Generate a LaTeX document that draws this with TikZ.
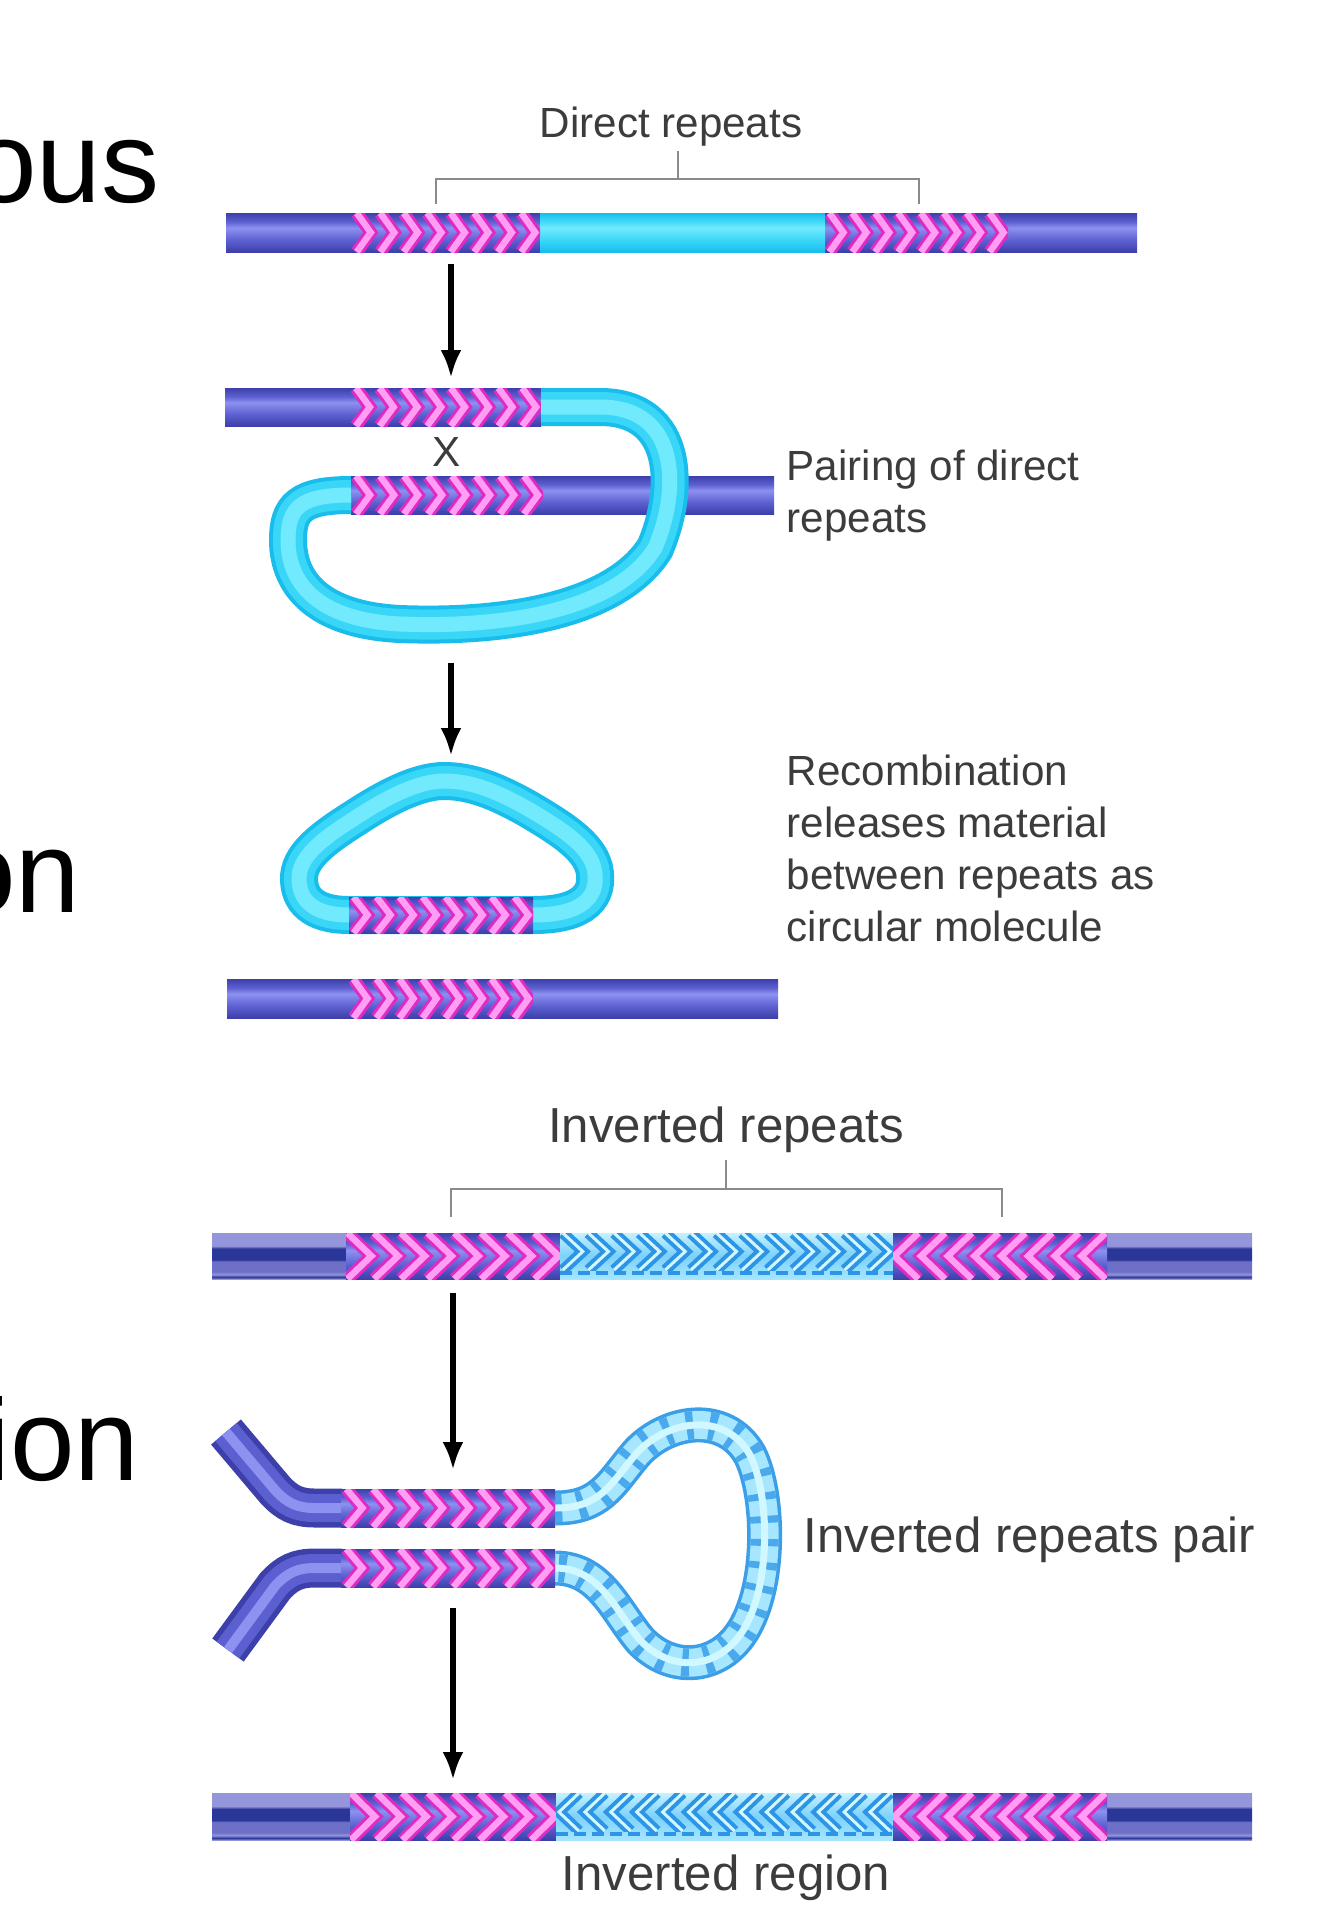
\documentclass[tikz,border=0pt]{standalone}
\usepackage{fontspec}
\setmainfont{Liberation Sans}
\usetikzlibrary{arrows.meta}

\definecolor{dnaedge}{HTML}{3D40AA}
\definecolor{dnamid}{HTML}{5C5FCF}
\definecolor{dnahi}{HTML}{8D91F0}
\definecolor{cyedge}{HTML}{18BDEC}
\definecolor{cymid}{HTML}{3AD6F7}
\definecolor{cyhi}{HTML}{72EAFD}
\definecolor{navy}{HTML}{2A3698}
\definecolor{lav}{HTML}{9495DA}
\definecolor{lavmid}{HTML}{6E70C8}
\definecolor{chevmag}{HTML}{E02AC4}
\definecolor{chevlight}{HTML}{FF9EF2}
\definecolor{lbbg}{HTML}{A6E6FF}
\definecolor{lbmid}{HTML}{7CD2FA}
\definecolor{lbtop}{HTML}{C4F2FF}
\definecolor{lbchevc}{HTML}{2E94E6}
\definecolor{lbstripe}{HTML}{4AA8EC}
\definecolor{lbinner}{HTML}{D2F8FF}
\definecolor{lbedge}{HTML}{3A9EE8}
\definecolor{textgray}{HTML}{3C3C3C}
\definecolor{bracegray}{HTML}{8A8A8A}

\pgfdeclareverticalshading{bluetube}{100bp}{color(0bp)=(dnaedge); color(25bp)=(dnaedge); color(40bp)=(dnamid); color(56bp)=(dnahi); color(64bp)=(dnamid); color(75bp)=(dnaedge); color(100bp)=(dnaedge)}
\pgfdeclareverticalshading{cyantube}{100bp}{color(0bp)=(cyedge); color(25bp)=(cyedge); color(40bp)=(cymid); color(56bp)=(cyhi); color(66bp)=(cymid); color(75bp)=(cyedge); color(100bp)=(cyedge)}
\pgfdeclareverticalshading{navytube}{100bp}{color(0bp)=(lav); color(25bp)=(lav); color(27bp)=(navy); color(30bp)=(lav); color(33bp)=(lavmid); color(44bp)=(lavmid); color(46bp)=(navy); color(58bp)=(navy); color(61bp)=(lav); color(75bp)=(lav); color(100bp)=(lav)}
\pgfdeclareverticalshading{lbtube}{100bp}{color(0bp)=(lbbg); color(25bp)=(lbbg); color(50bp)=(lbmid); color(75bp)=(lbtop); color(100bp)=(lbtop)}

% row of chevrons: x0, x1, ytop, ybot, count, tip depth, style
\newcommand{\chevrow}[7]{%
  \begin{scope}
    \clip (#1,#3) rectangle (#2,#4);
    \pgfmathsetmacro{\chs}{(#2-#1)/#5}
    \foreach \k in {1,...,#5}{
      \pgfmathsetmacro{\chc}{#1+(\k-0.5)*\chs}
      \draw[#7] ({\chc-0.5*(#6)},#3) -- ({\chc+0.5*(#6)},{(#3+#4)/2}) -- ({\chc-0.5*(#6)},#4);
    }
  \end{scope}}

\begin{document}
\begin{tikzpicture}[x=0.1mm, y=-0.1mm,
  flow/.style={draw=black, line width=1.5pt, -{Latex[length=2.8mm,width=2.1mm]}},
  brace/.style={draw=bracegray, line width=0.7pt},
  lbltext/.style={text=textgray, font=\fontsize{12}{14.8}\selectfont, inner sep=0pt},
  lbltextb/.style={text=textgray, font=\fontsize{14}{17}\selectfont, inner sep=0pt},
  bigword/.style={text=black, font=\fontsize{33}{40}\selectfont, inner sep=0pt},
  ctube/.style={draw=cyedge, line width=3.8mm, postaction={draw=cymid, line width=3.0mm}, postaction={draw=cyhi, line width=1.5mm}},
  ntube/.style={draw=dnaedge, line width=3.9mm, postaction={draw=dnamid, line width=2.8mm}, postaction={draw=dnahi, line width=1.0mm}},
  lbtubec/.style={draw=lbedge, line width=3.5mm, postaction={draw=lbbg, line width=2.8mm}, postaction={draw=lbstripe, line width=2.8mm, dash pattern=on 0.7mm off 1.6mm}, postaction={draw=lbinner, line width=0.7mm}},
  pinkchev/.style={draw=chevmag, line width=1.25mm, postaction={draw=chevlight, line width=0.65mm}},
  bluechev/.style={draw=lbchevc, line width=1.1mm, postaction={draw=lbinner, line width=0.3mm}},
  lbdash/.style={draw=lbchevc, line width=0.35mm, dash pattern=on 1.2mm off 0.6mm}]
\useasboundingbox (0,0) rectangle (1334,1932);

% cut-off words at the left
\node[bigword, anchor=base east] (w1) at (160,202) {ous};
\node[bigword, anchor=base east] (w2) at (81,912) {on};
\node[bigword, anchor=base east] (w3) at (140,1480) {ion};

% direct repeats
\node[lbltext, anchor=base] (drl) at (671,137) {Direct repeats};
\coordinate (drL) at (436,204);
\coordinate (drR) at (919,204);
\coordinate (drM) at (678,179);
\coordinate (drT) at (678,151);
\draw[brace] (drL) |- (drM) -| (drR);
\draw[brace] (drM) -- (drT);
\shade[shading=bluetube] (226,213) rectangle (1137,252);
\shade[shading=cyantube] (540,213) rectangle (825,252);
\chevrow{352}{540}{213}{252}{8}{14}{pinkchev}
\chevrow{825}{1008}{213}{252}{8}{14}{pinkchev}

\coordinate (a1s) at (451,264);
\coordinate (a1e) at (451,378);
\draw[flow] (a1s) -- (a1e);

% pairing
\shade[shading=bluetube] (225,388) rectangle (541,426);
\chevrow{351}{541}{388}{426}{8}{14}{pinkchev}
\node[lbltext, anchor=base] (xmark) at (447,466) {X};
\shade[shading=bluetube] (351,476) rectangle (774,514);
\chevrow{351}{543}{476}{514}{8}{14}{pinkchev}
\coordinate (t2e) at (541,407);
\coordinate (b2s) at (351,495);
\draw[ctube] (t2e) -- (600,407) .. controls (680,407) and (680,490) .. (655,548) .. controls (615,612) and (500,628) .. (400,624) .. controls (320,620) and (288,585) .. (288,540) .. controls (288,508) and (300,495) .. (b2s);
\node[lbltext, anchor=north west, align=left] (pairl) at (786,449) {Pairing of direct\\repeats};

\coordinate (a2s) at (451,663);
\coordinate (a2e) at (451,756);
\draw[flow] (a2s) -- (a2e);

% released circle
\draw[ctube] (533,915) .. controls (585,915) and (600,895) .. (594,868) .. controls (588,845) and (560,828) .. (530,810) .. controls (495,790) and (470,781) .. (444,781) .. controls (420,781) and (390,795) .. (355,818) .. controls (320,840) and (298,858) .. (299,880) .. controls (300,905) and (320,915) .. (349,915) -- cycle;
\shade[shading=bluetube] (349,897) rectangle (533,933);
\chevrow{349}{533}{897}{933}{8}{14}{pinkchev}
\node[lbltext, anchor=north west, align=left] (recl) at (786,754) {Recombination\\releases material\\between repeats as\\circular molecule};
\shade[shading=bluetube] (227,979) rectangle (778,1018);
\chevrow{349}{533}{979}{1018}{8}{14}{pinkchev}

% inverted repeats
\node[lbltextb, anchor=base] (irl) at (726,1142) {Inverted repeats};
\coordinate (irL) at (451,1217);
\coordinate (irR) at (1002,1217);
\coordinate (irM) at (726,1189);
\coordinate (irT) at (726,1160);
\draw[brace] (irL) |- (irM) -| (irR);
\draw[brace] (irM) -- (irT);
\shade[shading=navytube] (212,1233) rectangle (1252,1279);
\shade[shading=bluetube] (346,1233) rectangle (560,1279);
\chevrow{346}{560}{1233}{1279}{8}{24}{pinkchev}
\shade[shading=lbtube] (560,1233) rectangle (893,1279);
\chevrow{560}{893}{1233}{1270}{13}{20}{bluechev}
\draw[lbdash] (560,1273) -- (893,1273);
\shade[shading=bluetube] (893,1233) rectangle (1107,1279);
\chevrow{893}{1107}{1233}{1279}{8}{-24}{pinkchev}

\coordinate (a3s) at (453,1293);
\coordinate (a3e) at (453,1470);
\draw[flow] (a3s) -- (a3e);

% hairpin
\coordinate (hu0) at (226,1432);
\coordinate (hu1) at (342,1508);
\coordinate (hl0) at (228,1650);
\coordinate (hl1) at (342,1568);
\draw[ntube] (hu0) -- (275,1490) .. controls (287,1503) and (297,1508) .. (315,1508) -- (hu1);
\draw[ntube] (hl0) -- (275,1586) .. controls (287,1573) and (297,1568) .. (315,1568) -- (hl1);
\coordinate (hu2) at (555,1508);
\coordinate (hl2) at (555,1568);
\draw[lbtubec] (hu2) .. controls (600,1508) and (610,1485) .. (635,1455) .. controls (665,1420) and (725,1410) .. (750,1455) .. controls (770,1495) and (772,1590) .. (740,1635) .. controls (715,1670) and (670,1672) .. (640,1640) .. controls (615,1610) and (600,1568) .. (hl2);
\shade[shading=bluetube] (341,1489) rectangle (555,1527);
\chevrow{341}{555}{1489}{1527}{8}{16}{pinkchev}
\shade[shading=bluetube] (341,1549) rectangle (555,1587);
\chevrow{341}{555}{1549}{1587}{8}{16}{pinkchev}
\node[lbltextb, anchor=base west] (irp) at (803,1552) {Inverted repeats pair};

\coordinate (a4s) at (453,1608);
\coordinate (a4e) at (453,1780);
\draw[flow] (a4s) -- (a4e);

% inverted region
\shade[shading=navytube] (212,1793) rectangle (1252,1840);
\shade[shading=bluetube] (350,1793) rectangle (556,1840);
\chevrow{350}{556}{1793}{1840}{8}{24}{pinkchev}
\shade[shading=lbtube] (556,1793) rectangle (893,1840);
\chevrow{556}{893}{1793}{1831}{13}{-20}{bluechev}
\draw[lbdash] (556,1834) -- (893,1834);
\shade[shading=bluetube] (893,1793) rectangle (1107,1840);
\chevrow{893}{1107}{1793}{1840}{8}{-24}{pinkchev}
\node[lbltextb, anchor=base] (irg) at (726,1890) {Inverted region};
\end{tikzpicture}
\end{document}
